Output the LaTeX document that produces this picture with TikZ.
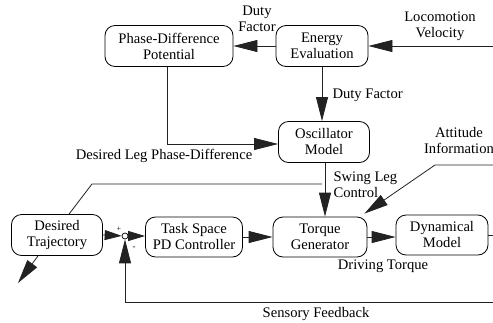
\documentclass[tikz,border=0pt]{standalone}
\usepackage{fontspec}
\setmainfont{Liberation Serif}
\usetikzlibrary{positioning, arrows.meta, calc}
\definecolor{mLine}{HTML}{222222}

\begin{document}
\begin{tikzpicture}[
  x=1pt, y=-1pt,
  every node/.style={font=\fontsize{14.6}{16}\selectfont},
  block/.style={draw, rounded corners=10pt, minimum height=41pt, align=center, inner sep=2pt, line width=0.8pt},
  wire/.style={mLine, line width=0.8pt},
  >={Triangle[length=24pt, width=12pt]},
  small/.style={>={Triangle[length=17pt, width=10pt]}},
]
  \useasboundingbox (0,0) rectangle (493,322);

  % Upper blocks
  \node[block, minimum width=128pt] (phase) at (169,46) {Phase-Difference\\Potential};
  \node[block, minimum width=92pt] (energy) at (322,46) {Energy\\Evaluation};
  \node[block, minimum width=91pt] (osc) at (324,142) {Oscillator\\Model};

  % Lower blocks
  \node[block, minimum width=91pt] (traj) at (57,235) {Desired\\Trajectory};
  \node[draw, circle, fill=white, inner sep=0pt, minimum size=6pt, line width=0.7pt] (sum) at (125,236) {};
  \node[block, minimum width=97pt, minimum height=40pt] (task) at (194,237) {Task Space\\PD Controller};
  \node[block, minimum width=94pt, minimum height=40pt] (torque) at (320,237) {Torque\\Generator};
  \node[block, minimum width=92pt, minimum height=40pt] (dyn) at (442,235) {Dynamical\\Model};

  % Free ends at the edge
  \coordinate (velin) at (493,46);
  \coordinate (attin) at (493,165);
  \coordinate (attbend) at (435,165);
  \coordinate (fbin) at (493,302);
  \coordinate (dynout) at (493,235);
  \coordinate (swingtap) at (322,184);
  \coordinate (swingbend) at (92,184);
  \coordinate (trajout) at (18,283);

  % Connectors
  \draw[wire, ->] (velin) -- (energy.east);
  \draw[wire, ->] (energy.west) -- (phase.east);
  \draw[wire, ->] (energy.south) -- (energy.south |- osc.north);
  \draw[wire, ->] ([xshift=-2pt]phase.south) |- ([yshift=-2pt]osc.west);
  \draw[wire, ->] ([xshift=1pt]osc.south) -- ([xshift=1pt]osc.south |- torque.north);
  \draw[wire] (swingtap) -- (swingbend) -- ([xshift=12pt]traj.north);
  \draw[wire, ->] (attin) -- (attbend) -- ([xshift=-3pt, yshift=3pt]torque.north east);
  \draw[wire, ->, small] (traj.east) -- (sum);
  \draw[wire, ->, small] (sum) -- (sum -| task.west);
  \draw[wire, ->] (task.east) -- (torque.west);
  \draw[wire, ->] (torque.east) -- (torque.east -| dyn.west);
  \draw[wire] (dyn.east) -- (dynout);
  \draw[wire, ->] (fbin) -| (sum);
  \draw[wire, ->] ([xshift=-19pt]traj.south) -- (trajout);

  % Labels
  \node[align=center] (velocity) at (440,26) {Locomotion\\Velocity};
  \node[align=center] (duty1) at (257,19) {Duty\\Factor};
  \node[anchor=west] (duty2) at (329,95) {Duty Factor};
  \node (legphase) at (164,156) {Desired Leg Phase-Difference};
  \node[align=left, anchor=west] (swing) at (330,185) {Swing Leg\\Control};
  \node[align=center] (attitude) at (459,141) {Attitude\\Information};
  \node (driving) at (383,266) {Driving Torque};
  \node (sensory) at (316,314) {Sensory Feedback};
  \node[font=\fontsize{8}{8}\selectfont] (plus) at (119,229) {+};
  \node[font=\fontsize{9}{9}\selectfont] (minus) at (134,248) {-};
\end{tikzpicture}
\end{document}
